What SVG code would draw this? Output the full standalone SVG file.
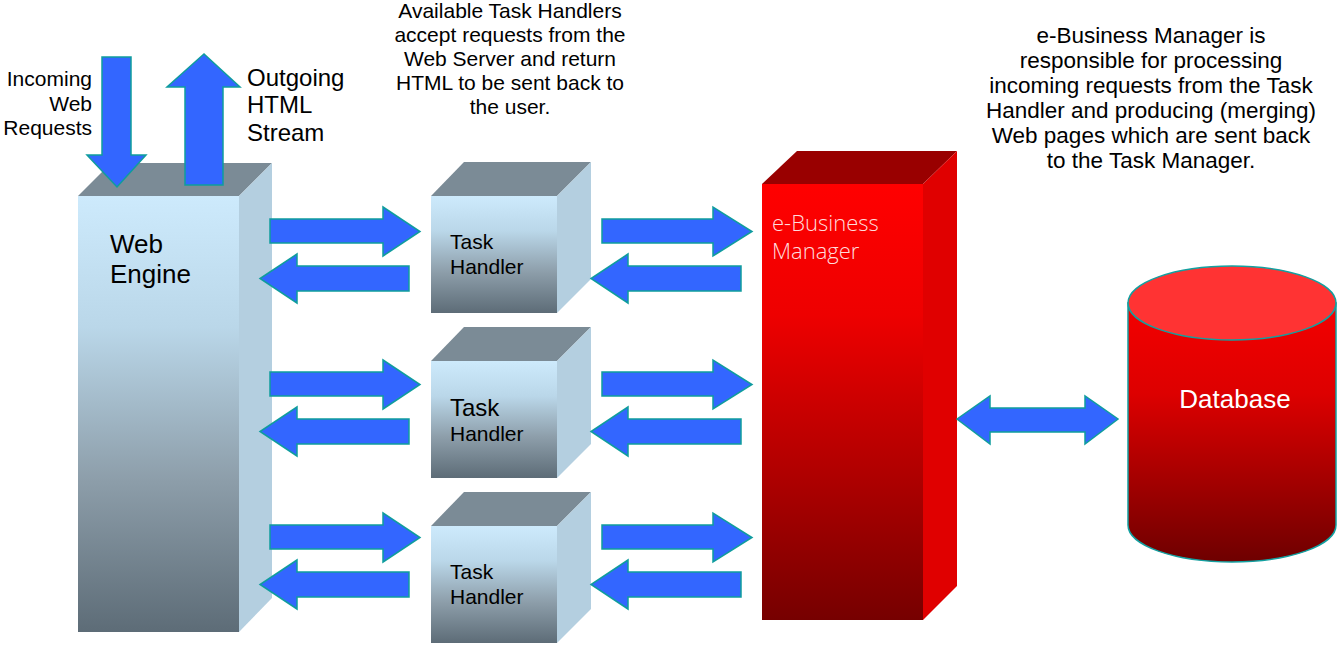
<svg xmlns="http://www.w3.org/2000/svg" width="1339" height="646" viewBox="0 0 1339 646">
<defs>
<linearGradient id="gBlue" x1="0" y1="0" x2="0" y2="1">
<stop offset="0" stop-color="#cdeafc"/>
<stop offset="0.3" stop-color="#bad7e9"/>
<stop offset="0.65" stop-color="#8d9eaa"/>
<stop offset="1" stop-color="#5d6c77"/>
</linearGradient>
<linearGradient id="gRed" x1="0" y1="0" x2="0" y2="1">
<stop offset="0" stop-color="#ff0000"/>
<stop offset="0.3" stop-color="#ee0000"/>
<stop offset="1" stop-color="#760000"/>
</linearGradient>
<linearGradient id="gDb" x1="0" y1="0" x2="0" y2="1">
<stop offset="0" stop-color="#f40000"/>
<stop offset="0.35" stop-color="#dd0000"/>
<stop offset="1" stop-color="#6e0000"/>
</linearGradient>
<g id="cube">
<rect x="431" y="196" width="126" height="117" fill="url(#gBlue)"/>
<polygon points="431,196 464,162 591,162 557,196" fill="#7b8b96"/>
<polygon points="557,196 591,162 591,279 557,313" fill="#b4cfe0"/>
</g>
</defs>
<style>
text{font-family:"Liberation Sans",Arial,sans-serif;fill:#000}
.arr{fill:#3366ff;stroke:#0f9d9d;stroke-width:1.5;stroke-linejoin:miter}
.th{font-size:21px}
.rt{font-size:22.5px;text-anchor:middle}
</style>

<g id="label-incoming">
<text x="92" y="86" font-size="21" text-anchor="end">Incoming</text>
<text x="92" y="111" font-size="21" text-anchor="end">Web</text>
<text x="92" y="135" font-size="21" text-anchor="end">Requests</text>
</g>
<g id="label-outgoing">
<text x="247" y="86" font-size="24">Outgoing</text>
<text x="247" y="113" font-size="24">HTML</text>
<text x="247" y="141" font-size="24">Stream</text>
</g>
<g id="label-taskhandlers">
<text x="510" y="18" font-size="21" text-anchor="middle">Available Task Handlers</text>
<text x="510" y="42" font-size="21" text-anchor="middle">accept requests from the</text>
<text x="510" y="66" font-size="21" text-anchor="middle">Web Server and return</text>
<text x="510" y="90" font-size="21" text-anchor="middle">HTML to be sent back to</text>
<text x="510" y="114" font-size="21" text-anchor="middle">the user.</text>
</g>
<g id="label-ebm">
<text class="rt" x="1151" y="43">e-Business Manager is</text>
<text class="rt" x="1151" y="68">responsible for processing</text>
<text class="rt" x="1151" y="93">incoming requests from the Task</text>
<text class="rt" x="1151" y="118">Handler and producing (merging)</text>
<text class="rt" x="1151" y="143">Web pages which are sent back</text>
<text class="rt" x="1151" y="168">to the Task Manager.</text>
</g>

<g id="web-engine">
<rect x="78" y="196" width="161" height="436" fill="url(#gBlue)"/>
<polygon points="78,196 111,163 272,163 239,196" fill="#7b8b96"/>
<polygon points="239,196 272,163 272,598 239,632" fill="#b4cfe0"/>
<text x="110" y="253" font-size="26">Web</text>
<text x="110" y="283" font-size="26">Engine</text>
</g>

<g id="task-handler-1">
<use href="#cube"/>
<text class="th" x="450" y="249">Task</text>
<text class="th" x="450" y="274">Handler</text>
</g>
<g id="task-handler-2">
<use href="#cube" transform="translate(0,165)"/>
<text x="450" y="416" font-size="24">Task</text>
<text class="th" x="450" y="441">Handler</text>
</g>
<g id="task-handler-3">
<use href="#cube" transform="translate(0,330)"/>
<text class="th" x="450" y="579">Task</text>
<text class="th" x="450" y="604">Handler</text>
</g>

<g id="ebusiness-manager">
<rect x="762" y="184" width="161" height="436" fill="url(#gRed)"/>
<polygon points="762,184 797,151 957,151 923,184" fill="#990000"/>
<polygon points="923,184 957,151 957,586 923,620" fill="#e00000"/>
<text x="772" y="231" font-size="22" style="font-family:'Open Sans','Liberation Sans',sans-serif;font-weight:300;fill:#ffdcdc">e-Business</text>
<text x="772" y="259" font-size="22" style="font-family:'Open Sans','Liberation Sans',sans-serif;font-weight:300;fill:#ffdcdc">Manager</text>
</g>

<g id="database">
<path d="M1128,303 V525 A104,37 0 0 0 1336,525 V303 Z" fill="url(#gDb)" stroke="#13a0a0" stroke-width="1.5"/>
<ellipse cx="1232" cy="303" rx="104" ry="37" fill="#ff3333" stroke="#13a0a0" stroke-width="1.5"/>
<text x="1235" y="408" font-size="26" text-anchor="middle" style="fill:#fff">Database</text>
</g>

<g id="connectors">
<path class="arr" d="M102,57 H131 V155 H146 L117,187 L87,155 H102 Z"/>
<path class="arr" d="M185,185 V87 H167 L204,54 L240,87 H223 V185 Z"/>
<g id="row1">
<path class="arr" d="M270,219 H383 V207 L420,231.5 L383,256 V243 H270 Z"/>
<path class="arr" d="M409,266 H297 V254 L260,278.5 L297,303 V291 H409 Z"/>
<path class="arr" d="M602,219 H713 V207 L752,231.5 L713,256 V243 H602 Z"/>
<path class="arr" d="M741,266 H628 V254 L591,278.5 L628,303 V291 H741 Z"/>
</g>
<g id="row2" transform="translate(0,153)">
<path class="arr" d="M270,219 H383 V207 L420,231.5 L383,256 V243 H270 Z"/>
<path class="arr" d="M409,266 H297 V254 L260,278.5 L297,303 V291 H409 Z"/>
<path class="arr" d="M602,219 H713 V207 L752,231.5 L713,256 V243 H602 Z"/>
<path class="arr" d="M741,266 H628 V254 L591,278.5 L628,303 V291 H741 Z"/>
</g>
<g id="row3" transform="translate(0,306)">
<path class="arr" d="M270,219 H383 V207 L420,231.5 L383,256 V243 H270 Z"/>
<path class="arr" d="M409,266 H297 V254 L260,278.5 L297,303 V291 H409 Z"/>
<path class="arr" d="M602,219 H713 V207 L752,231.5 L713,256 V243 H602 Z"/>
<path class="arr" d="M741,266 H628 V254 L591,278.5 L628,303 V291 H741 Z"/>
</g>
<path class="arr" d="M957,419 L990,396 V408 H1085 V396 L1118,419 L1085,444 V432 H990 V444 Z"/>
</g>
</svg>
